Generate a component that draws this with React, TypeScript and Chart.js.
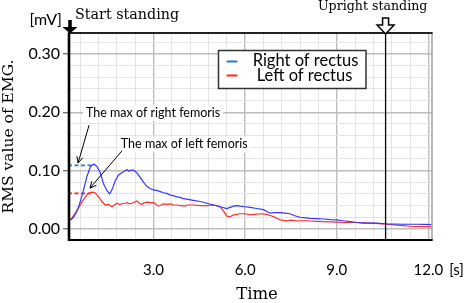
import React, { useEffect, useRef } from 'react';
import { Chart, registerables } from 'chart.js';

Chart.register(...registerables);

// ---- Data ----
const rightTime = [0.21, 0.3, 0.38, 0.47, 0.55, 0.63, 0.71, 0.82, 0.93, 1.0, 1.06, 1.15, 1.26, 1.36, 1.47, 1.56, 1.64, 1.75, 1.85, 1.95, 2.02, 2.13, 2.2, 2.24, 2.35, 2.41, 2.46, 2.54, 2.62, 2.7, 2.78, 2.9, 3.0, 3.11, 3.22, 3.33, 3.44, 3.55, 3.65, 3.76, 3.87, 3.98, 4.09, 4.3, 4.53, 4.75, 4.96, 5.18, 5.4, 5.51, 5.62, 5.73, 5.84, 6.0, 6.16, 6.38, 6.6, 6.71, 6.82, 6.95, 7.15, 7.3, 7.47, 7.6, 7.8, 8.0, 8.13, 8.35, 8.56, 8.8, 9.0, 9.2, 9.44, 9.65, 9.87, 10.1, 10.31, 10.64, 10.9, 11.18, 11.4, 11.62, 11.85, 12.1];
const rightRms = [0.015, 0.016, 0.02, 0.028, 0.038, 0.052, 0.067, 0.09, 0.106, 0.11, 0.111, 0.107, 0.096, 0.078, 0.066, 0.06, 0.067, 0.083, 0.092, 0.096, 0.098, 0.102, 0.099, 0.101, 0.101, 0.098, 0.096, 0.09, 0.084, 0.078, 0.073, 0.069, 0.067, 0.066, 0.064, 0.062, 0.061, 0.058, 0.057, 0.055, 0.054, 0.052, 0.051, 0.049, 0.047, 0.044, 0.041, 0.038, 0.035, 0.037, 0.039, 0.04, 0.039, 0.038, 0.037, 0.035, 0.033, 0.03, 0.027, 0.028, 0.028, 0.027, 0.026, 0.023, 0.02, 0.019, 0.018, 0.0175, 0.017, 0.016, 0.0155, 0.014, 0.0125, 0.011, 0.0098, 0.0098, 0.0098, 0.0086, 0.0082, 0.008, 0.008, 0.008, 0.0077, 0.0074];

const leftTime = [0.21, 0.3, 0.44, 0.52, 0.6, 0.68, 0.77, 0.87, 0.98, 1.09, 1.2, 1.31, 1.42, 1.53, 1.64, 1.72, 1.8, 1.88, 1.96, 2.05, 2.13, 2.21, 2.29, 2.38, 2.46, 2.54, 2.62, 2.7, 2.78, 2.9, 3.0, 3.08, 3.16, 3.25, 3.33, 3.44, 3.55, 3.65, 3.76, 3.9, 4.04, 4.09, 4.3, 4.53, 4.75, 4.96, 5.07, 5.18, 5.3, 5.4, 5.51, 5.62, 5.73, 5.84, 6.0, 6.16, 6.3, 6.49, 6.71, 6.82, 6.93, 7.05, 7.15, 7.37, 7.5, 7.69, 8.02, 8.35, 8.56, 8.78, 9.0, 9.22, 9.65, 10.09, 10.53, 10.96, 11.18, 11.4, 11.84, 12.1];
const leftRms = [0.015, 0.017, 0.027, 0.034, 0.041, 0.048, 0.055, 0.061, 0.063, 0.062, 0.055, 0.047, 0.041, 0.042, 0.038, 0.041, 0.044, 0.042, 0.043, 0.044, 0.045, 0.043, 0.044, 0.046, 0.048, 0.044, 0.042, 0.045, 0.046, 0.045, 0.045, 0.042, 0.039, 0.041, 0.043, 0.042, 0.043, 0.041, 0.041, 0.04, 0.039, 0.041, 0.041, 0.04, 0.04, 0.041, 0.04, 0.038, 0.03, 0.022, 0.021, 0.024, 0.025, 0.026, 0.026, 0.024, 0.025, 0.026, 0.025, 0.023, 0.021, 0.018, 0.0155, 0.0137, 0.015, 0.014, 0.014, 0.013, 0.0125, 0.012, 0.0115, 0.011, 0.011, 0.0098, 0.0086, 0.0063, 0.0055, 0.0046, 0.004, 0.0035];

const seriesLabels = ['Right of rectus', 'Left of rectus'];
const xTickValues = [3, 6, 9, 12];
const xTickLabels = ['3.0', '6.0', '9.0', '12.0'];
const yTickValues = [0, 0.1, 0.2, 0.3];
const yTickLabels = ['0.00', '0.10', '0.20', '0.30'];

const maxRightValue = 0.109;
const maxLeftValue = 0.061;
const maxLineEnd = 1.0;
const startTime = 0.2;
const uprightTime = 10.6;
const xMin = 0.2;
const xMax = 12.12;
const yMin = -0.019;
const yMax = 0.336;

const rightNote = { text: 'The max of right femoris', textT: 0.79, textV: 0.199, tailT: 0.89, tailV: 0.178, tipT: 0.53, tipV: 0.113 };
const leftNote = { text: 'The max of left femoris', textT: 1.93, textV: 0.145, tailT: 1.97, tailV: 0.134, tipT: 0.92, tipV: 0.07 };

const BLUE = '#3535ff';
const RED = '#ff3030';
const SANS = 'Lato, "Open Sans", sans-serif';
const SERIF = '"DejaVu Serif", serif';

const near = (v: number, arr: number[]) => arr.findIndex((m) => Math.abs(v - m) < 1e-6);

function arrow(ctx: CanvasRenderingContext2D, x1: number, y1: number, x2: number, y2: number) {
  ctx.beginPath();
  ctx.moveTo(x1, y1);
  ctx.lineTo(x2, y2);
  ctx.stroke();
  const a = Math.atan2(y2 - y1, x2 - x1);
  const s = 7;
  const w = 0.45;
  ctx.beginPath();
  ctx.moveTo(x2 - s * Math.cos(a - w), y2 - s * Math.sin(a - w));
  ctx.lineTo(x2, y2);
  ctx.lineTo(x2 - s * Math.cos(a + w), y2 - s * Math.sin(a + w));
  ctx.stroke();
}

const decorPlugin = {
  id: 'decor',
  beforeDatasetsDraw(chart: any) {
    const { ctx, scales } = chart;
    const x = scales.x;
    const y = scales.y;
    ctx.save();
    ctx.font = `12.5px ${SANS}`;
    ctx.textBaseline = 'middle';
    ctx.textAlign = 'left';
    for (const n of [rightNote, leftNote]) {
      const tx = x.getPixelForValue(n.textT);
      const ty = y.getPixelForValue(n.textV);
      const w = ctx.measureText(n.text).width;
      ctx.fillStyle = '#ffffff';
      ctx.fillRect(tx - 3, ty - 8, w + 6, 16);
    }
    ctx.restore();
  },
  afterDraw(chart: any) {
    const { ctx, scales, chartArea } = chart;
    const x = scales.x;
    const y = scales.y;
    const { left, right, top, bottom } = chartArea;
    ctx.save();

    const ux = x.getPixelForValue(uprightTime);
    ctx.strokeStyle = '#000';
    ctx.lineWidth = 1.3;
    ctx.beginPath();
    ctx.moveTo(ux, top);
    ctx.lineTo(ux, bottom);
    ctx.stroke();

    ctx.strokeStyle = '#8a8a8a';
    ctx.lineWidth = 1.2;
    ctx.beginPath();
    ctx.moveTo(right, top);
    ctx.lineTo(right, bottom);
    ctx.stroke();
    ctx.strokeStyle = '#222';
    ctx.lineWidth = 1.8;
    ctx.beginPath();
    ctx.moveTo(left, top);
    ctx.lineTo(right + 0.6, top);
    ctx.stroke();
    ctx.strokeStyle = '#000';
    ctx.lineWidth = 2;
    ctx.beginPath();
    ctx.moveTo(left, bottom);
    ctx.lineTo(right + 0.6, bottom);
    ctx.stroke();
    ctx.lineWidth = 2.6;
    ctx.beginPath();
    ctx.moveTo(left + 1, top);
    ctx.lineTo(left + 1, bottom + 1);
    ctx.stroke();

    ctx.font = `12.5px ${SANS}`;
    ctx.textBaseline = 'middle';
    ctx.textAlign = 'left';
    ctx.fillStyle = '#000';
    ctx.strokeStyle = '#000';
    ctx.lineWidth = 1;
    for (const n of [rightNote, leftNote]) {
      ctx.fillText(n.text, x.getPixelForValue(n.textT), y.getPixelForValue(n.textV));
      arrow(ctx, x.getPixelForValue(n.tailT), y.getPixelForValue(n.tailV), x.getPixelForValue(n.tipT), y.getPixelForValue(n.tipV));
    }

    const lx = 218.5, ly = 50.5, lw = 147.5, lh = 38;
    ctx.fillStyle = '#fff';
    ctx.fillRect(lx, ly, lw, lh);
    ctx.strokeStyle = '#333';
    ctx.lineWidth = 1.5;
    ctx.strokeRect(lx, ly, lw, lh);
    ctx.lineWidth = 2;
    ctx.strokeStyle = '#2a7ad6';
    ctx.beginPath();
    ctx.moveTo(226.5, 61.5);
    ctx.lineTo(237.5, 61.5);
    ctx.stroke();
    ctx.strokeStyle = '#ff2a2a';
    ctx.beginPath();
    ctx.moveTo(226.5, 75.5);
    ctx.lineTo(237.5, 75.5);
    ctx.stroke();
    ctx.fillStyle = '#000';
    ctx.font = `16.5px ${SANS}`;
    ctx.textAlign = 'center';
    ctx.fillText(seriesLabels[0], 305.5, 61);
    ctx.fillText(seriesLabels[1], 304.5, 76);

    ctx.font = `16px ${SANS}`;
    ctx.textAlign = 'right';
    ctx.fillText('[mV]', 62, 20);
    ctx.font = `15px ${SANS}`;
    ctx.textAlign = 'left';
    const x12 = x.getPixelForValue(12);
    const w12 = ctx.measureText('12.0').width;
    ctx.fillText('[s]', x12 + w12 / 2 + 6, 270);

    ctx.textAlign = 'left';
    ctx.textBaseline = 'alphabetic';
    ctx.font = `14.3px ${SERIF}`;
    ctx.fillText('Start standing', 75, 19);
    ctx.font = `12.6px ${SERIF}`;
    ctx.fillText('Upright standing', 318, 10);

    ctx.font = `16.5px ${SERIF}`;
    ctx.textAlign = 'center';
    ctx.textBaseline = 'middle';
    ctx.fillText('Time', 257, 295);

    const sx = x.getPixelForValue(startTime) + 2;
    ctx.fillStyle = '#000';
    ctx.beginPath();
    ctx.moveTo(sx - 1.8, 20);
    ctx.lineTo(sx + 1.8, 20);
    ctx.lineTo(sx + 1.8, 27);
    ctx.lineTo(sx + 7.5, 27);
    ctx.lineTo(sx, top + 0.5);
    ctx.lineTo(sx - 7.5, 27);
    ctx.lineTo(sx - 1.8, 27);
    ctx.closePath();
    ctx.fill();

    ctx.fillStyle = '#fff';
    ctx.strokeStyle = '#000';
    ctx.lineWidth = 1.5;
    ctx.beginPath();
    ctx.moveTo(ux - 3, 18);
    ctx.lineTo(ux + 3, 18);
    ctx.lineTo(ux + 3, 25);
    ctx.lineTo(ux + 8.5, 25);
    ctx.lineTo(ux, top + 1);
    ctx.lineTo(ux - 8.5, 25);
    ctx.lineTo(ux - 3, 25);
    ctx.closePath();
    ctx.fill();
    ctx.stroke();

    ctx.restore();
  },
};

export default function App() {
  const ref = useRef<HTMLCanvasElement | null>(null);

  useEffect(() => {
    document.body.style.margin = '0';
    const canvas = ref.current;
    if (!canvas) return;
    const rightData = rightTime.map((t, i) => ({ x: t, y: rightRms[i] }));
    const leftData = leftTime.map((t, i) => ({ x: t, y: leftRms[i] }));
    const chart = new Chart(canvas, {
      type: 'line',
      data: {
        datasets: [
          { label: seriesLabels[0], data: rightData, borderColor: BLUE, borderWidth: 1.2, pointRadius: 0, tension: 0 },
          { label: seriesLabels[1], data: leftData, borderColor: RED, borderWidth: 1.2, pointRadius: 0, tension: 0 },
          {
            label: 'max right',
            data: [{ x: xMin, y: maxRightValue }, { x: maxLineEnd, y: maxRightValue }],
            borderColor: '#2e78c8', borderWidth: 1.6, borderDash: [4, 2.5], pointRadius: 0,
          },
          {
            label: 'max left',
            data: [{ x: xMin, y: maxLeftValue }, { x: maxLineEnd - 0.05, y: maxLeftValue }],
            borderColor: '#ff2020', borderWidth: 1.6, borderDash: [4, 2.5], pointRadius: 0,
          },
        ],
      },
      options: {
        responsive: false,
        animation: false,
        devicePixelRatio: 1,
        layout: { padding: { top: 33, right: 40, left: 0, bottom: 0 } },
        plugins: { legend: { display: false }, tooltip: { enabled: false }, title: { display: false } },
        scales: {
          x: {
            type: 'linear',
            min: xMin,
            max: xMax,
            afterFit: (s: any) => { s.height = 63; },
            afterBuildTicks: (s: any) => {
              const t = [];
              for (let k = 1; k <= 20; k++) t.push({ value: Math.round(k * 6) / 10 });
              s.ticks = t;
            },
            ticks: {
              autoSkip: false,
              maxRotation: 0,
              padding: 21,
              color: '#000',
              font: { family: SANS, size: 15 },
              callback: (v: any) => {
                const i = near(Number(v), xTickValues);
                return i >= 0 ? xTickLabels[i] : '';
              },
            },
            grid: {
              drawTicks: false,
              color: (c: any) => (near(c.tick?.value ?? -1, xTickValues) >= 0 ? '#bdbdbd' : '#e4e4e4'),
              lineWidth: (c: any) => (near(c.tick?.value ?? -1, xTickValues) >= 0 ? 1.4 : 1),
            },
            border: { display: false },
          },
          y: {
            type: 'linear',
            min: yMin,
            max: yMax,
            afterFit: (s: any) => { s.width = 68; },
            afterBuildTicks: (s: any) => {
              const t = [];
              for (let k = 0; k <= 16; k++) t.push({ value: Math.round(k * 2) / 100 });
              s.ticks = t;
            },
            ticks: {
              autoSkip: false,
              padding: 3,
              color: '#000',
              font: { family: SANS, size: 16 },
              callback: (v: any) => {
                const i = near(Number(v), yTickValues);
                return i >= 0 ? yTickLabels[i] : '';
              },
            },
            grid: {
              drawTicks: true,
              tickLength: 5,
              tickColor: (c: any) => (near(c.tick?.value ?? -1, yTickValues) >= 0 ? '#777' : 'rgba(0,0,0,0)'),
              color: (c: any) => (near(c.tick?.value ?? -1, yTickValues) >= 0 ? '#bdbdbd' : '#e4e4e4'),
              lineWidth: (c: any) => (near(c.tick?.value ?? -1, yTickValues) >= 0 ? 1.4 : 1),
            },
            border: { display: false },
            title: {
              display: true,
              text: 'RMS value of EMG.',
              color: '#000',
              font: { family: SERIF, size: 15.5 },
              padding: { top: 0, bottom: 0 },
            },
          },
        },
      },
      plugins: [decorPlugin],
    } as any);
    return () => chart.destroy();
  }, []);

  return (
    <div style={{ position: 'fixed', left: 0, top: 0, width: 472, height: 303, background: '#fff' }}>
      <canvas ref={ref} width={472} height={303} style={{ width: 472, height: 303, display: 'block' }} />
    </div>
  );
}
